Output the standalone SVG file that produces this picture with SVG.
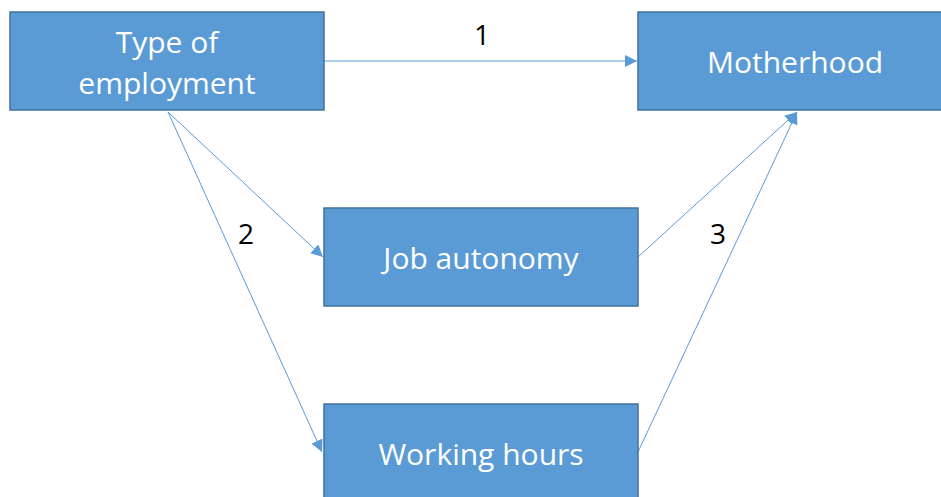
<svg xmlns="http://www.w3.org/2000/svg" width="941" height="497" viewBox="0 0 941 497">
  <style>
    .box { fill: #5b9bd5; stroke: #41719c; stroke-width: 1.5; }
    .lbl { fill: #ffffff; font-family: "Open Sans", "Liberation Sans", sans-serif; font-size: 30px; text-anchor: middle; }
    .num { fill: #000000; font-family: "Open Sans", "Liberation Sans", sans-serif; font-size: 28px; text-anchor: middle; }
    .edge { stroke: #5b9bd5; stroke-width: 1; fill: none; marker-end: url(#arrow); }
  </style>
  <defs>
    <marker id="arrow" viewBox="0 0 10 10" refX="10" refY="5" markerWidth="12" markerHeight="12" markerUnits="userSpaceOnUse" orient="auto">
      <path d="M0,0 L10,5 L0,10 z" fill="#5b9bd5"/>
    </marker>
  </defs>

  <g id="connectors">
    <line class="edge" x1="324" y1="61" x2="637" y2="61"/>
    <line class="edge" x1="168" y1="112" x2="323" y2="257"/>
    <line class="edge" x1="168" y1="112" x2="322" y2="452"/>
    <line class="edge" x1="638" y1="257" x2="797" y2="112"/>
    <line class="edge" x1="638" y1="452" x2="797" y2="112"/>
  </g>

  <g id="type-of-employment">
    <rect class="box" x="10" y="12" width="314" height="98"/>
    <text class="lbl" x="167" y="53">Type of</text>
    <text class="lbl" x="167" y="94">employment</text>
  </g>

  <g id="motherhood">
    <rect class="box" x="638" y="12" width="310" height="98"/>
    <text class="lbl" x="795" y="73">Motherhood</text>
  </g>

  <g id="job-autonomy">
    <rect class="box" x="324" y="208" width="314" height="98"/>
    <text class="lbl" x="481" y="269">Job autonomy</text>
  </g>

  <g id="working-hours">
    <rect class="box" x="324" y="404" width="314" height="98"/>
    <text class="lbl" x="481" y="465">Working hours</text>
  </g>

  <g id="path-labels">
    <text class="num" x="482" y="45">1</text>
    <text class="num" x="246" y="244">2</text>
    <text class="num" x="718" y="244">3</text>
  </g>
</svg>
